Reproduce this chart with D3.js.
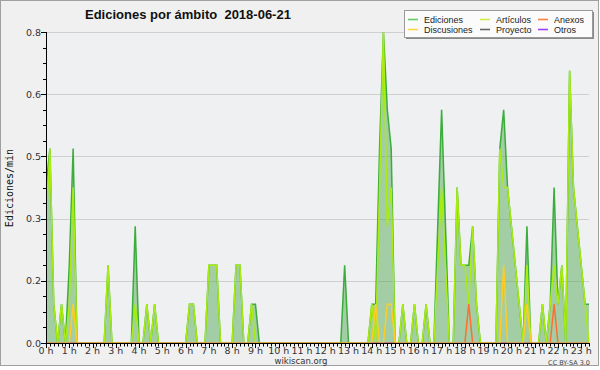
<!DOCTYPE html>
<html>
<head>
<meta charset="utf-8">
<script src="https://cdn.jsdelivr.net/npm/d3@7"></script>
<style>
  body { margin: 0; background: #ffffff; }
  svg { display: block; }
</style>
</head>
<body>
<svg></svg>
<script>
// edits per minute, one value every 10 minutes from 0:00 to 23:20
const ediciones = [
  0.4, 0.5, 0.1, 0, 0.1, 0,
  0.2, 0.5, 0, 0, 0, 0,
  0, 0, 0, 0, 0.2, 0,
  0, 0, 0, 0, 0, 0.3,
  0, 0, 0.1, 0, 0.1, 0,
  0, 0, 0, 0, 0, 0,
  0, 0.1, 0.1, 0, 0, 0,
  0.2, 0.2, 0.2, 0, 0, 0,
  0, 0.2, 0.2, 0, 0, 0.1,
  0.1, 0, 0, 0, 0, 0,
  0, 0, 0, 0, 0, 0,
  0, 0, 0, 0, 0, 0,
  0, 0, 0, 0, 0, 0.2,
  0, 0, 0, 0, 0, 0,
  0.1, 0.1, 0.5, 0.8, 0.6, 0.5,
  0, 0, 0.1, 0, 0, 0.1,
  0, 0, 0.1, 0, 0, 0.3,
  0.6, 0.3, 0, 0, 0.4, 0.2,
  0.2, 0.2, 0.3, 0.1, 0, 0,
  0, 0, 0, 0.5, 0.6, 0.4,
  0.3, 0.2, 0.1, 0, 0.3, 0,
  0, 0, 0.1, 0, 0.1, 0.4,
  0.1, 0.2, 0, 0.7, 0.4, 0.3,
  0.2, 0.1, 0.1
];
const articulos = [
  0.3, 0.5, 0.1, 0, 0.1, 0,
  0.1, 0.4, 0, 0, 0, 0,
  0, 0, 0, 0, 0.2, 0,
  0, 0, 0, 0, 0, 0.1,
  0, 0, 0.1, 0, 0.1, 0,
  0, 0, 0, 0, 0, 0,
  0, 0.1, 0.1, 0, 0, 0,
  0.2, 0.2, 0.2, 0, 0, 0,
  0, 0.2, 0.2, 0, 0, 0.1,
  0, 0, 0, 0, 0, 0,
  0, 0, 0, 0, 0, 0,
  0, 0, 0, 0, 0, 0,
  0, 0, 0, 0, 0, 0,
  0, 0, 0, 0, 0, 0,
  0.1, 0, 0.4, 0.8, 0.3, 0.4,
  0, 0, 0.1, 0, 0, 0.1,
  0, 0, 0.1, 0, 0, 0.2,
  0.4, 0.2, 0, 0, 0.4, 0.2,
  0.2, 0.1, 0.3, 0.1, 0, 0,
  0, 0, 0, 0.5, 0.4, 0.4,
  0.3, 0.2, 0.1, 0, 0.2, 0,
  0, 0, 0.1, 0, 0.1, 0.2,
  0.1, 0.2, 0, 0.7, 0.4, 0.3,
  0.2, 0.1, 0
];
const discusiones = [
  0, 0, 0, 0, 0, 0,
  0, 0.1, 0, 0, 0, 0,
  0, 0, 0, 0, 0, 0,
  0, 0, 0, 0, 0, 0,
  0, 0, 0, 0, 0, 0,
  0, 0, 0, 0, 0, 0,
  0, 0, 0, 0, 0, 0,
  0, 0, 0, 0, 0, 0,
  0, 0, 0, 0, 0, 0,
  0, 0, 0, 0, 0, 0,
  0, 0, 0, 0, 0, 0,
  0, 0, 0, 0, 0, 0,
  0, 0, 0, 0, 0, 0,
  0, 0, 0, 0, 0, 0,
  0, 0.1, 0, 0, 0.1, 0.1,
  0, 0, 0, 0, 0, 0,
  0, 0, 0, 0, 0, 0,
  0, 0, 0, 0, 0, 0,
  0, 0, 0, 0, 0, 0,
  0, 0, 0, 0, 0.2, 0,
  0, 0, 0, 0, 0.1, 0,
  0, 0, 0, 0, 0, 0,
  0, 0, 0, 0, 0, 0,
  0, 0, 0
];
const anexos = [
  0, 0, 0, 0, 0, 0,
  0, 0, 0, 0, 0, 0,
  0, 0, 0, 0, 0, 0,
  0, 0, 0, 0, 0, 0,
  0, 0, 0, 0, 0, 0,
  0, 0, 0, 0, 0, 0,
  0, 0, 0, 0, 0, 0,
  0, 0, 0, 0, 0, 0,
  0, 0, 0, 0, 0, 0,
  0, 0, 0, 0, 0, 0,
  0, 0, 0, 0, 0, 0,
  0, 0, 0, 0, 0, 0,
  0, 0, 0, 0, 0, 0,
  0, 0, 0, 0, 0, 0,
  0, 0, 0, 0, 0, 0,
  0, 0, 0, 0, 0, 0,
  0, 0, 0, 0, 0, 0,
  0, 0, 0, 0, 0, 0,
  0, 0.1, 0, 0, 0, 0,
  0, 0, 0, 0, 0, 0,
  0, 0, 0, 0, 0, 0,
  0, 0, 0, 0, 0, 0.1,
  0, 0, 0, 0, 0, 0,
  0, 0, 0
];
const proyecto = ediciones.map(() => 0);
const otros = ediciones.map(() => 0);

const legendNames = ['Ediciones', 'Discusiones', 'Artículos', 'Proyecto', 'Anexos', 'Otros'];
const legendColors = ['#66cc66', '#ffd640', '#ccee44', '#666666', '#ff8040', '#a040ff'];

const hourLabels = ['0 h', '1 h', '2 h', '3 h', '4 h', '5 h', '6 h', '7 h', '8 h', '9 h', '10 h', '11 h',
  '12 h', '13 h', '14 h', '15 h', '16 h', '17 h', '18 h', '19 h', '20 h', '21 h', '22 h', '23 h'];
const yTicks = [0, 0.16, 0.32, 0.48, 0.64, 0.8];
const yTickLabels = ['0.0', '0.2', '0.3', '0.5', '0.6', '0.8'];

const width = 600, height = 370;
const plotLeft = 46, plotRight = 589, plotTop = 32, plotBottom = 343;

const svg = d3.select('svg')
    .attr('width', width)
    .attr('height', height);

// frame
svg.append('rect')
    .attr('x', 0.5).attr('y', 0.5)
    .attr('width', width - 2).attr('height', height - 5)
    .attr('fill', '#f0f0f0')
    .attr('stroke', '#a0a0a0');

const x = d3.scaleLinear()
    .domain([0, 1400])
    .range([plotLeft, plotRight]);

const y = d3.scaleLinear()
    .domain([0, 0.8])
    .range([plotBottom, plotTop]);

svg.append('clipPath')
    .attr('id', 'plotclip')
    .append('rect')
    .attr('x', plotLeft).attr('y', 0)
    .attr('width', plotRight - plotLeft + 2).attr('height', plotBottom - 0.6);

// plot background
svg.append('rect')
    .attr('x', plotLeft).attr('y', plotTop)
    .attr('width', plotRight - plotLeft).attr('height', plotBottom - plotTop)
    .attr('fill', '#eef0f2');

// grid
svg.selectAll('.grid')
    .data(yTicks.slice(1))
    .enter()
    .append('line')
    .attr('x1', plotLeft).attr('x2', plotRight)
    .attr('y1', d => Math.round(y(d)) + 0.5)
    .attr('y2', d => Math.round(y(d)) + 0.5)
    .attr('stroke', '#cfcfcf');

const area = d3.area()
    .x((d, i) => x(i * 10))
    .y0(y(0))
    .y1(d => y(d));

const line = d3.line()
    .x((d, i) => x(i * 10))
    .y(d => y(d));

const plot = svg.append('g').attr('clip-path', 'url(#plotclip)');

plot.append('path')
    .datum(ediciones)
    .attr('d', area)
    .attr('fill', '#3c9e3c')
    .attr('fill-opacity', 0.42);

const series = [
    { values: ediciones, color: '#3aad3a' },
    { values: otros, color: '#9a3cff' },
    { values: proyecto, color: '#666666' },
    { values: articulos, color: '#a8ec10' },
    { values: anexos, color: '#ff6f2f' },
    { values: discusiones, color: '#ffcc22' }
];

plot.selectAll('.serie')
    .data(series)
    .enter()
    .append('path')
    .attr('d', d => line(d.values))
    .attr('fill', 'none')
    .attr('stroke', d => d.color)
    .attr('stroke-width', 1.5)
    .attr('stroke-linejoin', 'miter');

// y axis
const yAxis = svg.append('g');
yAxis.append('line')
    .attr('x1', plotLeft + 0.5).attr('x2', plotLeft + 0.5)
    .attr('y1', plotTop).attr('y2', plotBottom)
    .attr('stroke', '#000');
yAxis.selectAll('.ymin')
    .data(d3.range(0, 0.801, 0.04))
    .enter()
    .append('line')
    .attr('x1', plotLeft - 3).attr('x2', plotLeft)
    .attr('y1', d => Math.round(y(d)) + 0.5)
    .attr('y2', d => Math.round(y(d)) + 0.5)
    .attr('stroke', '#000');
yAxis.selectAll('.ymaj')
    .data(yTicks)
    .enter()
    .append('line')
    .attr('x1', plotLeft - 5).attr('x2', plotLeft)
    .attr('y1', d => Math.round(y(d)) + 0.5)
    .attr('y2', d => Math.round(y(d)) + 0.5)
    .attr('stroke', '#000');
yAxis.selectAll('.ylab')
    .data(yTicks)
    .enter()
    .append('text')
    .attr('x', plotLeft - 5)
    .attr('y', d => y(d) + 3.5)
    .attr('text-anchor', 'end')
    .style('font-family', 'DejaVu Sans')
    .style('font-size', '9.5px')
    .attr('fill', '#333')
    .text((d, i) => yTickLabels[i]);

// x axis
const xAxis = svg.append('g');
xAxis.append('line')
    .attr('x1', plotLeft).attr('x2', plotRight + 1)
    .attr('y1', plotBottom + 0.5).attr('y2', plotBottom + 0.5)
    .attr('stroke', '#000');
xAxis.selectAll('.xmin')
    .data(d3.range(0, 1401, 10))
    .enter()
    .append('line')
    .attr('x1', d => Math.round(x(d)) + 0.5)
    .attr('x2', d => Math.round(x(d)) + 0.5)
    .attr('y1', plotBottom)
    .attr('y2', d => plotBottom + (d % 60 === 0 ? 5 : 3.5))
    .attr('stroke', '#000');
xAxis.selectAll('.xlab')
    .data(hourLabels)
    .enter()
    .append('text')
    .attr('x', (d, i) => x(i * 60))
    .attr('y', plotBottom + 11)
    .attr('text-anchor', 'middle')
    .style('font-family', 'DejaVu Sans')
    .style('font-size', '9.5px')
    .attr('fill', '#333')
    .text(d => d);

// titles
svg.append('text')
    .attr('x', 85).attr('y', 19)
    .style('font-family', 'Liberation Sans')
    .style('font-weight', 'bold')
    .style('font-size', '13px')
    .style('white-space', 'pre')
    .attr('fill', '#111')
    .text('Ediciones por ámbito  2018-06-21');

svg.append('text')
    .attr('transform', 'translate(13,188) rotate(-90)')
    .attr('text-anchor', 'middle')
    .style('font-family', 'DejaVu Sans Mono')
    .style('font-size', '10px')
    .attr('fill', '#111')
    .text('Ediciones/min');

svg.append('text')
    .attr('x', 301).attr('y', 364)
    .attr('text-anchor', 'middle')
    .style('font-family', 'DejaVu Sans')
    .style('font-size', '8.5px')
    .attr('fill', '#333')
    .text('wikiscan.org');

svg.append('text')
    .attr('x', 590).attr('y', 365)
    .attr('text-anchor', 'end')
    .style('font-family', 'DejaVu Sans')
    .style('font-size', '6.5px')
    .attr('fill', '#444')
    .text('CC BY-SA 3.0');

// legend
const lg = svg.append('g');
lg.append('rect')
    .attr('x', 406).attr('y', 12)
    .attr('width', 188).attr('height', 27)
    .attr('fill', '#888');
lg.append('rect')
    .attr('x', 404.5).attr('y', 10.5)
    .attr('width', 188).attr('height', 27)
    .attr('fill', '#fbfbfb')
    .attr('stroke', '#9a9a9a');

const colX = [408, 480, 538];
const rowY = [19.5, 29.5];
legendNames.forEach((name, i) => {
    const cx = colX[Math.floor(i / 2)], cy = rowY[i % 2];
    lg.append('line')
        .attr('x1', cx).attr('x2', cx + 10)
        .attr('y1', cy).attr('y2', cy)
        .attr('stroke', legendColors[i])
        .attr('stroke-width', 1.6);
    lg.append('text')
        .attr('x', cx + 16).attr('y', cy + 3)
        .style('font-family', 'Liberation Sans')
        .style('font-size', '9px')
        .attr('fill', '#222')
        .text(name);
});
</script>
</body>
</html>
